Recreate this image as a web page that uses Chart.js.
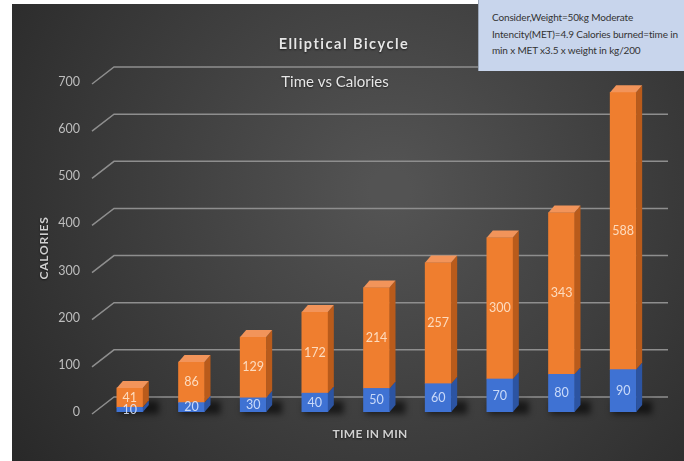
<!DOCTYPE html>
<html>
<head>
<meta charset="utf-8">
<script src="https://cdn.jsdelivr.net/npm/chart.js@4.4.1/dist/chart.umd.min.js"></script>
<style>
  html, body { margin: 0; padding: 0; background: #fff; }
  #wrap { position: relative; width: 684px; height: 461px; }
  #note {
    position: absolute; left: 478px; top: 0; width: 206px; height: 71px;
    background: #c8d5ec; border-left: 1px solid #9aa6b8; box-sizing: border-box;
    padding: 9px 0 0 13px; font: 10px Lato, sans-serif; letter-spacing: -0.15px;
    line-height: 16.5px; color: #333; white-space: nowrap; overflow: hidden;
  }
</style>
</head>
<body>
<div id="wrap">
  <canvas id="chart" width="684" height="461"></canvas>
  <div id="note">Consider,Weight=50kg Moderate<br>Intencity(MET)=4.9 Calories burned=time in<br>min x MET x3.5 x weight in kg/200</div>
</div>
<script>
// values
const minutes = ["10", "20", "30", "40", "50", "60", "70", "80", "90"];
const timeValues = [10, 20, 30, 40, 50, 60, 70, 80, 90];
const calorieValues = [41, 86, 129, 172, 214, 257, 300, 343, 588];
const yTicks = [0, 100, 200, 300, 400, 500, 600, 700];

const mainTitle = "Elliptical Bicycle";
const subTitle = "Time vs Calories";
const yTitle = "CALORIES";
const xTitle = "TIME IN MIN";

// 3d look
const dx = 6, dy = -7;

const deco = {
    id: "deco",
    beforeDraw(chart) {
        const { ctx, width, height } = chart;
        ctx.save();
        ctx.fillStyle = "#fff";
        ctx.fillRect(0, 0, width, height);
        const g = ctx.createRadialGradient(390, 190, 20, 390, 190, 480);
        g.addColorStop(0, "#535353");
        g.addColorStop(1, "#272727");
        ctx.fillStyle = g;
        ctx.fillRect(12, 4, width - 12, height - 4);
        ctx.restore();
    },
    beforeDatasetsDraw(chart) {
        const { ctx } = chart;
        const y = chart.scales.y;
        ctx.save();
        // back wall gridlines with the little diagonal
        ctx.strokeStyle = "#8e8e8e";
        ctx.lineWidth = 1.5;
        y.ticks.forEach(t => {
            const py = y.getPixelForValue(t.value);
            ctx.beginPath();
            ctx.moveTo(92, py + 2);
            ctx.lineTo(114, py - 15);
            ctx.lineTo(668, py - 15);
            ctx.stroke();
        });
        // floor shadows
        ctx.filter = "blur(3px)";
        ctx.fillStyle = "rgba(0,0,0,0.6)";
        chart.getDatasetMeta(0).data.forEach(b => {
            const l = b.x - b.width / 2;
            ctx.fillRect(l + 2, b.base - 11, b.width + 14, 13);
        });
        ctx.restore();
    },
    afterDatasetsDraw(chart) {
        const { ctx } = chart;
        const sides = ["#2c54a2", "#b95b1b"];
        ctx.save();
        chart.data.datasets.forEach((ds, di) => {
            chart.getDatasetMeta(di).data.forEach(b => {
                const l = b.x - b.width / 2, r = b.x + b.width / 2;
                const top = Math.min(b.y, b.base), bot = Math.max(b.y, b.base);
                ctx.fillStyle = sides[di];
                ctx.beginPath();
                ctx.moveTo(r, bot);
                ctx.lineTo(r, top);
                ctx.lineTo(r + dx, top + dy);
                ctx.lineTo(r + dx, bot + dy);
                ctx.closePath();
                ctx.fill();
                if (di === 1) {
                    ctx.fillStyle = "#f2945a";
                    ctx.beginPath();
                    ctx.moveTo(l, top);
                    ctx.lineTo(l + dx, top + dy);
                    ctx.lineTo(r + dx, top + dy);
                    ctx.lineTo(r, top);
                    ctx.closePath();
                    ctx.fill();
                }
            });
        });
        // value labels in the middle of each segment
        ctx.font = "12.5px Lato, sans-serif";
        ctx.textAlign = "center";
        ctx.textBaseline = "middle";
        chart.data.datasets.forEach((ds, di) => {
            ctx.fillStyle = di === 0 ? "rgba(225,235,255,0.85)" : "rgba(255,235,215,0.85)";
            chart.getDatasetMeta(di).data.forEach((b, i) => {
                ctx.fillText(ds.data[i], b.x, (b.y + b.base) / 2);
            });
        });
        ctx.restore();
    },
    afterDraw(chart) {
        const { ctx } = chart;
        ctx.save();
        ctx.fillStyle = "#e6e6e6";
        ctx.textAlign = "center";
        ctx.textBaseline = "middle";
        ctx.shadowColor = "rgba(0,0,0,0.6)";
        ctx.shadowBlur = 2;
        ctx.shadowOffsetY = 1;
        ctx.font = "bold 14.5px Lato, sans-serif";
        ctx.letterSpacing = "1.5px";
        ctx.fillText(mainTitle, 344, 44);
        ctx.letterSpacing = "0px";
        ctx.font = "15px Lato, sans-serif";
        ctx.fillText(subTitle, 335, 82);
        ctx.font = "bold 12px Lato, sans-serif";
        ctx.fillStyle = "#d0d0d0";
        ctx.letterSpacing = "0.3px";
        ctx.fillText(xTitle, 370, 434);
        ctx.translate(44, 248);
        ctx.rotate(-Math.PI / 2);
        ctx.letterSpacing = "0.8px";
        ctx.fillText(yTitle, 0, 0);
        ctx.restore();
    }
};

new Chart(document.getElementById("chart"), {
    type: "bar",
    data: {
        labels: minutes,
        datasets: [
            { label: "Time", data: timeValues, backgroundColor: "#3f72d3", barThickness: 26 },
            { label: "Calories", data: calorieValues, backgroundColor: "#ef7e2f", barThickness: 26 }
        ]
    },
    options: {
        responsive: false,
        animation: false,
        layout: { padding: { left: 12, top: 82, right: 30, bottom: 49 } },
        plugins: { legend: { display: false }, tooltip: { enabled: false } },
        scales: {
            x: { stacked: true, display: false },
            y: {
                stacked: true,
                min: 0,
                max: 700,
                afterFit(s) { s.width = 87; },
                afterBuildTicks(s) { s.ticks = yTicks.map(v => ({ value: v })); },
                grid: { display: false, drawTicks: false },
                border: { display: false },
                ticks: { color: "#bdbdbd", font: { family: "Lato", size: 12.5 }, padding: 19 }
            }
        }
    },
    plugins: [deco]
});
</script>
</body>
</html>
